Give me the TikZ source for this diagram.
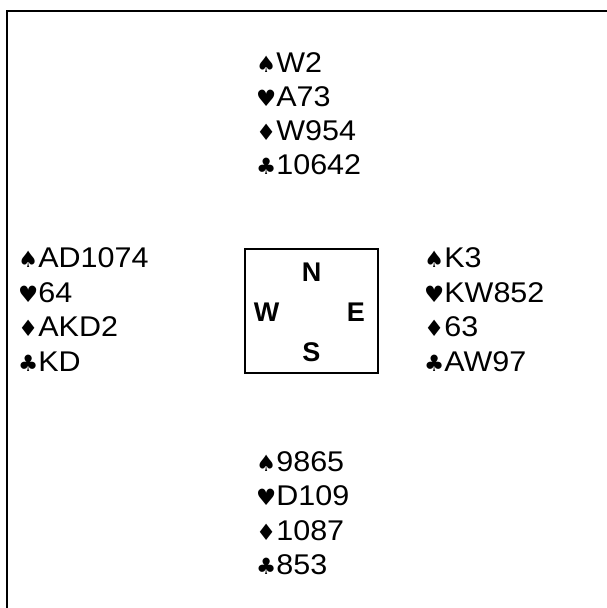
\documentclass[tikz,border=0pt]{standalone}
\usepackage{fontspec}
\setmainfont[FakeStretch=1.07]{Liberation Sans}
\newfontfamily\plainsans{Liberation Sans}
\newfontfamily\suitfont{DejaVu Sans}
\newcommand{\sS}{{\suitfont\fontsize{22.5pt}{22.5pt}\selectfont ♠}}
\newcommand{\sH}{{\suitfont\fontsize{22.5pt}{22.5pt}\selectfont ♥}}
\newcommand{\sD}{{\suitfont\fontsize{22.5pt}{22.5pt}\selectfont ♦}}
\newcommand{\sC}{{\suitfont\fontsize{22.5pt}{22.5pt}\selectfont ♣}}
\begin{document}
\begin{tikzpicture}[x=1pt,y=1pt,
  cardline/.style={anchor=base west, inner sep=0pt, font=\fontsize{28.5pt}{28.5pt}\selectfont},
  compass/.style={inner sep=0pt, font=\plainsans\fontsize{27pt}{27pt}\selectfont\bfseries},
  frame/.style={draw, line width=1.3pt}]
\useasboundingbox (0,0) rectangle (607,-608);
\coordinate (bl) at (7,-608);
\coordinate (tl) at (7,-11);
\coordinate (tr) at (607,-11);
\draw[line width=1.4pt] (bl) -- (tl) -- (tr);
% North
\node[cardline] (n1) at (256,-72) {\sS W2};
\node[cardline] (n2) at (256,-106) {\sH A73};
\node[cardline] (n3) at (256,-140) {\sD W954};
\node[cardline] (n4) at (256,-174) {\sC 10642};
% West
\node[cardline] (w1) at (18,-267.5) {\sS AD1074};
\node[cardline] (w2) at (18,-302) {\sH 64};
\node[cardline] (w3) at (18,-336.5) {\sD AKD2};
\node[cardline] (w4) at (18,-371) {\sC KD};
% East
\node[cardline] (e1) at (424,-267.5) {\sS K3};
\node[cardline] (e2) at (424,-302) {\sH KW852};
\node[cardline] (e3) at (424,-336.5) {\sD 63};
\node[cardline] (e4) at (424,-371) {\sC AW97};
% South
\node[cardline] (s1) at (256,-471) {\sS 9865};
\node[cardline] (s2) at (256,-505.5) {\sH D109};
\node[cardline] (s3) at (256,-540) {\sD 1087};
\node[cardline] (s4) at (256,-574.5) {\sC 853};
% compass box
\node[frame, minimum width=133pt, minimum height=124pt, inner sep=0pt] (box) at (311.5,-311) {};
\node[compass] (cn) at (311.5,-272) {N};
\node[compass] (cw) at (266.5,-312) {W};
\node[compass] (ce) at (356,-312) {E};
\node[compass] (cs) at (311.5,-352) {S};
\end{tikzpicture}
\end{document}
